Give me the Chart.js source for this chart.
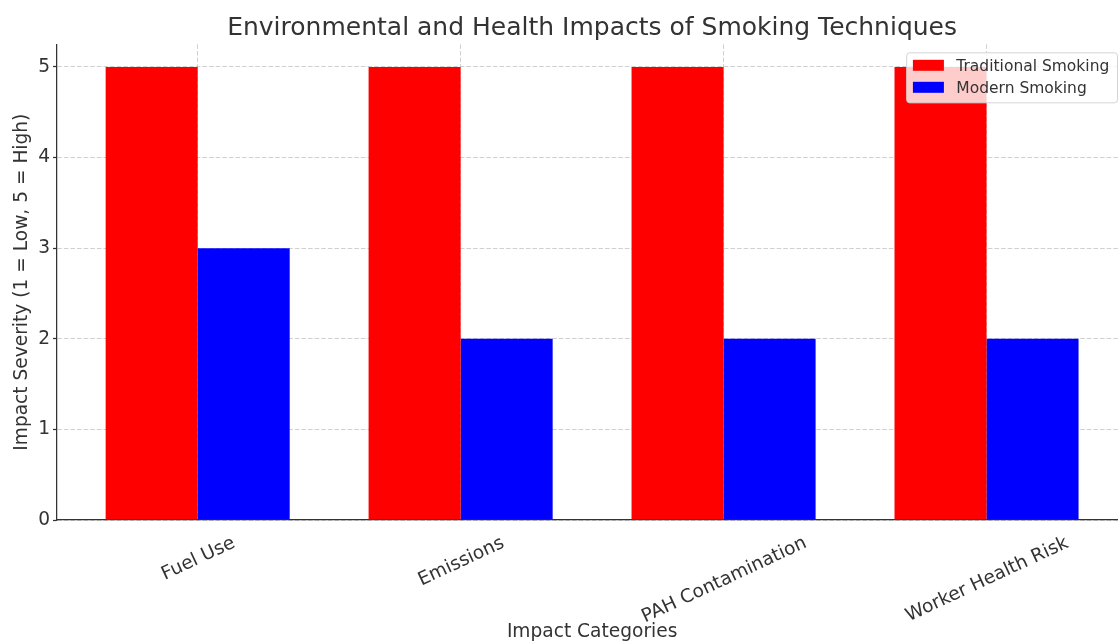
<!DOCTYPE html>
<html>
<head>
<meta charset="utf-8">
<script src="https://cdn.jsdelivr.net/npm/chart.js@4.4.1/dist/chart.umd.min.js"></script>
<style>
  html, body { margin: 0; padding: 0; background: #ffffff; overflow: hidden; }
  #wrap { width: 1118px; height: 641px; position: relative; }
</style>
</head>
<body>
<div id="wrap"><canvas id="c" width="1118" height="641"></canvas></div>
<script>
// Chart text
const chartTitle = 'Environmental and Health Impacts of Smoking Techniques';
const xAxisTitle = 'Impact Categories';
const yAxisTitle = 'Impact Severity (1 = Low, 5 = High)';

// Data
const categories = ['Fuel Use', 'Emissions', 'PAH Contamination', 'Worker Health Risk'];
const seriesNames = ['Traditional Smoking', 'Modern Smoking'];
const traditionalValues = [5, 5, 5, 5];
const modernValues = [3, 2, 2, 2];
const yTickValues = [0, 1, 2, 3, 4, 5];

// Styling
const seriesColors = ['#ff0000', '#0000ff'];
const FONT = "'DejaVu Sans', 'Liberation Sans', sans-serif";
const INK = '#333333';
const GRID = 'rgba(176,176,176,0.6)';

// Texts around the plot area and the legend box, drawn on top of the chart
const decorations = {
  id: 'decorations',
  afterDraw(chart) {
    const { ctx, chartArea: a, scales: { x } } = chart;
    const centerX = x.getPixelForValue((categories.length - 1) / 2);
    ctx.save();
    ctx.fillStyle = INK;

    // title
    ctx.font = `25px ${FONT}`;
    ctx.textAlign = 'center';
    ctx.textBaseline = 'alphabetic';
    ctx.fillText(chartTitle, centerX, 35);

    // rotated category labels, box-centred under each tick
    const fs = 18.6;
    const ang = 25 * Math.PI / 180;
    const boxH = 1.164 * fs;
    ctx.font = `${fs}px ${FONT}`;
    categories.forEach((label, i) => {
      const w = ctx.measureText(label).width;
      const bbH = w * Math.sin(ang) + boxH * Math.cos(ang);
      const cx = x.getPixelForValue(i);
      const cy = a.bottom + 11 + bbH / 2;
      ctx.save();
      ctx.translate(cx, cy);
      ctx.rotate(-ang);
      ctx.textAlign = 'center';
      ctx.textBaseline = 'alphabetic';
      ctx.fillText(label, 0, 0.346 * fs);
      ctx.restore();
    });

    // x axis title
    ctx.textAlign = 'center';
    ctx.fillText(xAxisTitle, centerX, 637);

    // y axis title
    ctx.save();
    ctx.translate(27, (a.top + a.bottom) / 2);
    ctx.rotate(-Math.PI / 2);
    ctx.textAlign = 'center';
    ctx.fillText(yAxisTitle, 0, 0);
    ctx.restore();

    // legend
    const lf = 15.5;
    ctx.font = `${lf}px ${FONT}`;
    const names = chart.data.datasets.map(d => d.label);
    const textW = Math.max(...names.map(n => ctx.measureText(n).width));
    const pad = 0.4 * lf, handleW = 2 * lf, gap = 0.8 * lf, rowH = 22;
    const boxW = pad + handleW + gap + textW + pad + 2;
    const right = a.right - 0.5;
    const left = right - boxW;
    const top = a.top + 8.5;
    const boxHt = 50;
    const r = 3;
    ctx.beginPath();
    ctx.moveTo(left + r, top);
    ctx.lineTo(right - r, top);
    ctx.arcTo(right, top, right, top + r, r);
    ctx.lineTo(right, top + boxHt - r);
    ctx.arcTo(right, top + boxHt, right - r, top + boxHt, r);
    ctx.lineTo(left + r, top + boxHt);
    ctx.arcTo(left, top + boxHt, left, top + boxHt - r, r);
    ctx.lineTo(left, top + r);
    ctx.arcTo(left, top, left + r, top, r);
    ctx.closePath();
    ctx.fillStyle = 'rgba(255,255,255,0.8)';
    ctx.fill();
    ctx.strokeStyle = '#d4d4d4';
    ctx.lineWidth = 1;
    ctx.stroke();

    chart.data.datasets.forEach((ds, i) => {
      const rowC = top + 12.5 + i * rowH;
      ctx.fillStyle = ds.backgroundColor;
      ctx.fillRect(left + pad, rowC - 5.5, handleW, 11);
      ctx.fillStyle = INK;
      ctx.textAlign = 'left';
      ctx.textBaseline = 'alphabetic';
      ctx.fillText(ds.label, left + pad + handleW + gap, rowC + 5.5);
    });
    ctx.restore();
  }
};

const seriesValues = [traditionalValues, modernValues];

new Chart(document.getElementById('c'), {
  type: 'bar',
  data: {
    datasets: seriesNames.map((name, s) => ({
      label: name,
      data: categories.map((_, i) => ({ x: i, y: seriesValues[s][i] })),
      backgroundColor: seriesColors[s],
      borderWidth: 0,
      categoryPercentage: 0.7,
      barPercentage: 1.0
    }))
  },
  options: {
    responsive: false,
    animation: false,
    devicePixelRatio: 1,
    layout: { padding: { top: 44.3, bottom: 121, left: 0, right: 0 } },
    plugins: {
      legend: { display: false },
      title: { display: false },
      tooltip: { enabled: false }
    },
    scales: {
      x: {
        type: 'linear',
        offset: false,
        min: -0.535,
        max: 3.5,
        afterBuildTicks: (scale) => { scale.ticks = categories.map((_, i) => ({ value: i })); },
        afterFit: (scale) => { scale.height = 0; },
        ticks: { display: false },
        grid: { offset: false, color: GRID, lineWidth: 1, drawTicks: false },
        border: { display: true, color: INK, width: 1.25, dash: [4.6, 2] }
      },
      y: {
        min: 0,
        max: 5.25,
        afterBuildTicks: (scale) => { scale.ticks = yTickValues.map(v => ({ value: v })); },
        afterFit: (scale) => { scale.width = 57; },
        ticks: {
          color: INK,
          padding: 3,
          font: { family: FONT, size: 18.6 },
          callback: (v) => String(v)
        },
        grid: {
          color: GRID,
          lineWidth: 1,
          drawTicks: true,
          tickLength: 4,
          tickColor: INK,
          tickWidth: 1.25,
          tickBorderDash: []
        },
        border: { display: true, color: INK, width: 1.25, dash: [4.6, 2] }
      }
    }
  },
  plugins: [decorations]
});
</script>
</body>
</html>
